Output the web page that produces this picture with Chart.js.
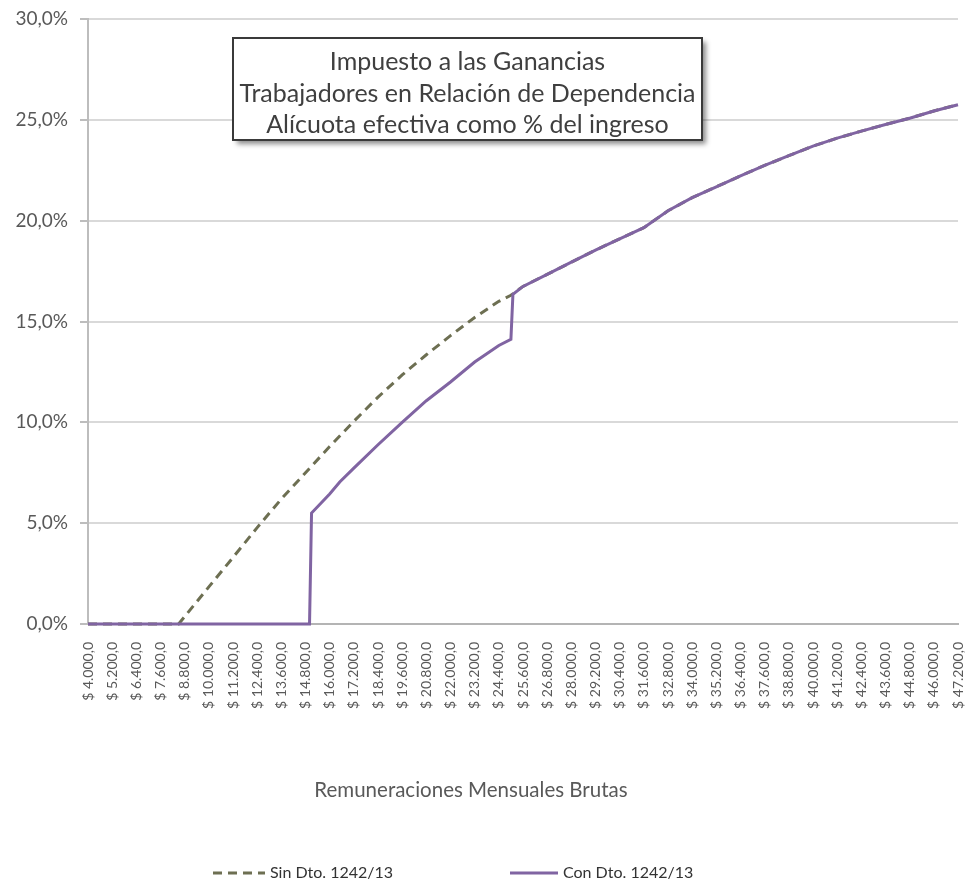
<!DOCTYPE html>
<html><head><meta charset="utf-8">
<script src="https://cdn.jsdelivr.net/npm/chart.js@4.4.1/dist/chart.umd.min.js"></script>
<style>html,body{margin:0;padding:0;background:#fff;}#wrap{width:968px;height:883px;}</style>
</head><body><div id="wrap"><canvas id="c" width="968" height="883"></canvas></div>
<script>
// ---- data ----
const xTickValues = [4000,5200,6400,7600,8800,10000,11200,12400,13600,14800,16000,17200,18400,19600,20800,22000,23200,24400,25600,26800,28000,29200,30400,31600,32800,34000,35200,36400,37600,38800,40000,41200,42400,43600,44800,46000,47200];
const yTickValues = [0,5,10,15,20,25,30];
const seriesNames = ['Sin Dto. 1242/13','Con Dto. 1242/13'];
const titleLines = ['Impuesto a las Ganancias','Trabajadores en Relación de Dependencia','Alícuota efectiva como % del ingreso'];
const xAxisTitle = 'Remuneraciones Mensuales Brutas';

const sinIncome = [4000,5200,6400,7600,8500,8800,10000,11200,12400,13600,14800,16000,17200,18400,19600,20800,22000,23200,24400,25000,25600,26800,28000,29200,30400,31600,32800,34000,35200,36400,37600,38800,40000,41200,42400,43600,44800,46000,47200];
const sinRate   = [0,0,0,0,0,0.37,1.84,3.3,4.78,6.2,7.5,8.8,10.05,11.25,12.35,13.35,14.3,15.2,16.0,16.3,16.74,17.34,17.94,18.54,19.1,19.65,20.49,21.14,21.68,22.22,22.74,23.22,23.7,24.09,24.44,24.77,25.08,25.44,25.75];

const conIncome = [4000,5200,6400,7600,8800,10000,11200,12400,13600,14800,15000,15100,16000,16500,17200,18400,19600,20800,22000,23200,24400,25000,25100,25600,26800,28000,29200,30400,31600,32800,34000,35200,36400,37600,38800,40000,41200,42400,43600,44800,46000,47200];
const conRate   = [0,0,0,0,0,0,0,0,0,0,0,5.5,6.45,7.04,7.73,8.89,10.0,11.07,12.0,12.99,13.81,14.12,16.35,16.74,17.34,17.94,18.54,19.1,19.65,20.49,21.14,21.68,22.22,22.74,23.22,23.7,24.09,24.44,24.77,25.08,25.44,25.75];

// ---- helpers ----
const toPoints = (xs, ys) => xs.map((x, i) => ({x: x, y: ys[i]}));
const fmtPeso = v => '$ ' + String(v).replace(/\B(?=(\d{3})+(?!\d))/g, '.') + ',0';
const fmtPct = v => Number(v).toFixed(1).replace('.', ',') + '%';
const FONT = 'Lato';

const decor = {
  id: 'decor',
  afterDraw(chart) {
    const ctx = chart.ctx;
    ctx.save();
    // title box
    const bx = 233, by = 38, bw = 469, bh = 102;
    ctx.shadowColor = 'rgba(0,0,0,0.45)';
    ctx.shadowBlur = 5; ctx.shadowOffsetX = 4; ctx.shadowOffsetY = 4;
    ctx.fillStyle = '#ffffff';
    ctx.fillRect(bx, by, bw, bh);
    ctx.shadowColor = 'transparent';
    ctx.lineWidth = 2; ctx.strokeStyle = '#3a3a3a';
    ctx.strokeRect(bx, by, bw, bh);
    ctx.fillStyle = '#3f3f3f';
    ctx.font = '25px ' + FONT;
    ctx.textAlign = 'center'; ctx.textBaseline = 'middle';
    titleLines.forEach((t, i) => ctx.fillText(t, bx + bw / 2, 62 + i * 31.6));
    // x axis title
    ctx.fillStyle = '#595959';
    ctx.font = '20.5px ' + FONT;
    ctx.fillText(xAxisTitle, 471, 790);
    // legend
    const lx = [213, 510], ll = [52, 48], ly = 873;
    ctx.font = '16px ' + FONT;
    ctx.textAlign = 'left';
    chart.data.datasets.forEach((ds, i) => {
      ctx.beginPath();
      ctx.setLineDash(ds.borderDash || []);
      ctx.lineWidth = ds.borderWidth;
      ctx.strokeStyle = ds.borderColor;
      ctx.moveTo(lx[i], ly); ctx.lineTo(lx[i] + ll[i], ly);
      ctx.stroke();
      ctx.setLineDash([]);
      ctx.fillStyle = '#333333';
      ctx.fillText(ds.label, lx[i] + ll[i] + 5, ly);
    });
    ctx.restore();
  }
};

new Chart(document.getElementById('c'), {
  type: 'line',
  data: {
    datasets: [
      {label: seriesNames[0], data: toPoints(sinIncome, sinRate), borderColor: '#6d6f52', borderWidth: 3, borderDash: [9, 6], pointRadius: 0, fill: false, tension: 0, order: 2, clip: false},
      {label: seriesNames[1], data: toPoints(conIncome, conRate), borderColor: '#8064a2', borderWidth: 3, pointRadius: 0, fill: false, tension: 0, order: 1, clip: false}
    ]
  },
  options: {
    responsive: false,
    animation: false,
    devicePixelRatio: 1,
    layout: {padding: {left: 0, right: 10, top: 19, bottom: 83}},
    plugins: {legend: {display: false}, tooltip: {enabled: false}, title: {display: false}},
    scales: {
      x: {
        type: 'linear', min: 4000, max: 47200,
        afterBuildTicks: s => { s.ticks = xTickValues.map(v => ({value: v})); },
        afterFit: s => { s.height = 176; s.paddingLeft = 0; s.paddingRight = 0; },
        grid: {display: false, drawTicks: false},
        border: {display: true, color: '#b4b4b4', width: 2},
        ticks: {autoSkip: false, minRotation: 90, maxRotation: 90, padding: 18, color: '#595959', font: {family: FONT, size: 14}, callback: v => fmtPeso(v)},
        title: {display: false}
      },
      y: {
        min: 0, max: 30,
        afterBuildTicks: s => { s.ticks = yTickValues.map(v => ({value: v})); },
        afterFit: s => { s.width = 88; s.paddingTop = 0; s.paddingBottom = 0; },
        grid: {color: '#d9d9d9', lineWidth: 2, tickLength: 8, tickColor: '#bdbdbd'},
        border: {display: true, color: '#bdbdbd', width: 2},
        ticks: {padding: 12, color: '#595959', font: {family: FONT, size: 19}, callback: v => fmtPct(v)}
      }
    }
  },
  plugins: [decor]
});
</script>
</body></html>
